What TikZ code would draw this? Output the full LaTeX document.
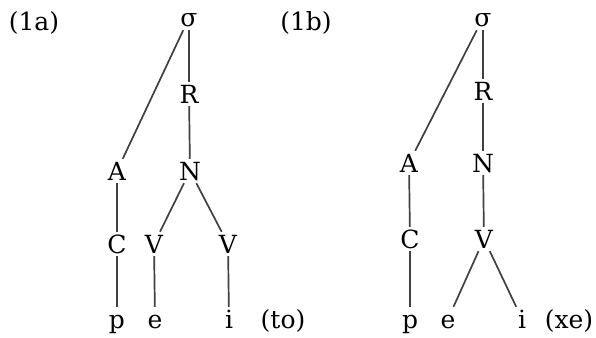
\documentclass[tikz,border=0pt]{standalone}
\usepackage{fontspec}
\setmainfont{DejaVu Serif}
\begin{document}
\begin{tikzpicture}[x=1pt,y=-1pt,
  lbl/.style={font=\fontsize{25}{28}\selectfont, inner sep=3pt, anchor=base,
              text height=18pt, text depth=0pt},
  tag/.style={font=\fontsize{25}{28}\selectfont, inner sep=0pt, anchor=base},
  edge/.style={line width=1.7pt, draw=black!75}]
\useasboundingbox (0,0) rectangle (596,337);
% tree (1a)
\node[tag] (la) at (34,31) {(1a)};
\node[lbl] (s1) at (189,27) {σ};
\node[lbl] (r1) at (189,103) {R};
\node[lbl] (a1) at (117,180) {A};
\node[lbl] (n1) at (190,180) {N};
\node[lbl] (c1) at (117,253) {C};
\node[lbl] (v1) at (154,253) {V};
\node[lbl] (w1) at (228,253) {V};
\node[lbl] (p1) at (117,328) {p};
\node[lbl] (e1) at (155,328) {e};
\node[lbl] (i1) at (229,328) {i};
\node[tag] (t1) at (283,328) {(to)};
\draw[edge] (s1) -- (a1);
\draw[edge] (s1) -- (r1);
\draw[edge] (r1) -- (n1);
\draw[edge] (a1) -- (c1);
\draw[edge] (c1) -- (p1);
\draw[edge] (n1) -- (v1);
\draw[edge] (n1) -- (w1);
\draw[edge] (v1) -- (e1);
\draw[edge] (w1) -- (i1);
% tree (1b)
\node[tag] (lb) at (306,31) {(1b)};
\node[lbl] (s2) at (483,27) {σ};
\node[lbl] (r2) at (483,100) {R};
\node[lbl] (a2) at (409,172) {A};
\node[lbl] (n2) at (483,172) {N};
\node[lbl] (c2) at (410,248) {C};
\node[lbl] (v2) at (484,248) {V};
\node[lbl] (p2) at (410,328) {p};
\node[lbl] (e2) at (448,328) {e};
\node[lbl] (i2) at (522,328) {i};
\node[tag] (t2) at (569,328) {(xe)};
\draw[edge] (s2) -- (a2);
\draw[edge] (s2) -- (r2);
\draw[edge] (r2) -- (n2);
\draw[edge] (n2) -- (v2);
\draw[edge] (a2) -- (c2);
\draw[edge] (c2) -- (p2);
\draw[edge] (v2) -- (e2);
\draw[edge] (v2) -- (i2);
\end{tikzpicture}
\end{document}
